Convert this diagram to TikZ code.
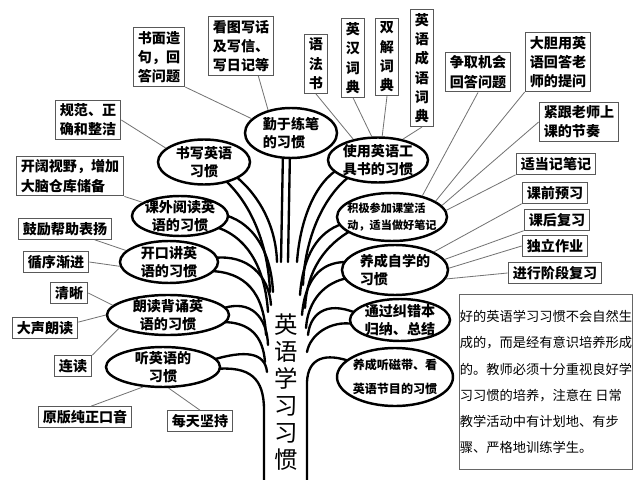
\documentclass[tikz,border=0pt]{standalone}
\usepackage{fontspec}
\setmainfont{Noto Sans CJK SC}
\usetikzlibrary{shapes.geometric}

\begin{document}
\begin{tikzpicture}[x=.03cm,y=-.03cm,
  leaf/.style={draw=black!65,line width=.9pt,fill=white,inner xsep=4pt,inner ysep=3pt,align=left,font=\fontsize{12}{16.5}\selectfont\bfseries},
  habit/.style={ellipse,draw,line width=2.1pt,fill=white,inner xsep=-6pt,inner ysep=-4pt,align=center,font=\fontsize{12}{15}\selectfont\bfseries},
  link/.style={black!55,line width=.7pt},
  branch/.style={line width=2pt,line cap=round}]
\useasboundingbox (0,0) rectangle (640,480);
% tree
\draw[branch] (283,150) -- (281,262);
\draw[branch] (290,150) -- (288,262);
\draw[branch] (220,176) .. controls (248,198) and (268,240) .. (270,292);
\draw[branch] (230,172) .. controls (258,192) and (276,225) .. (277,262);
\draw[branch] (212,226) .. controls (245,234) and (265,265) .. (268,312);
\draw[branch] (220,214) .. controls (252,220) and (271,250) .. (273,292);
\draw[branch] (210,271) .. controls (245,272) and (264,292) .. (266,335);
\draw[branch] (214,258) .. controls (248,254) and (269,276) .. (271,305);
\draw[branch] (224,308) .. controls (250,300) and (267,316) .. (268,345);
\draw[branch] (222,322) .. controls (250,322) and (263,336) .. (265,362);
\draw[branch] (212,360) .. controls (245,350) and (265,352) .. (267,372);
\draw[branch] (215,369) .. controls (250,366) and (264,378) .. (264,410) -- (264,480);
\draw[branch] (340,168) .. controls (315,182) and (300,220) .. (297,262);
\draw[branch] (350,176) .. controls (325,195) and (305,235) .. (303,285);
\draw[branch] (342,224) .. controls (318,232) and (303,255) .. (300,295);
\draw[branch] (352,230) .. controls (325,245) and (307,270) .. (305,308);
\draw[branch] (346,262) .. controls (320,262) and (305,280) .. (302,315);
\draw[branch] (348,278) .. controls (325,282) and (308,300) .. (306,328);
\draw[branch] (356,313) .. controls (325,300) and (310,315) .. (308,335);
\draw[branch] (354,324) .. controls (330,320) and (310,335) .. (307,352);
\draw[branch] (352,362) .. controls (325,352) and (308,358) .. (307,382) -- (307,480);
\node[font=\fontsize{20}{23}\selectfont,align=center] (trunk) at (286,392) {英\\语\\学\\习\\习\\惯};
% habits
\node[habit,minimum width=2.76cm,minimum height=1.5cm,align=left] (e1) at (291,133) {勤于练笔\\的习惯};
\node[habit,minimum width=2.76cm,minimum height=1.35cm] (e2) at (204,162) {书写英语\\习惯};
\node[habit,minimum width=2.88cm,minimum height=1.2cm] (e3) at (180,216) {课外阅读英\\语的习惯};
\node[habit,minimum width=2.94cm,minimum height=1.26cm] (e4) at (169,262) {开口讲英\\语的习惯};
\node[habit,minimum width=3.66cm,minimum height=1.2cm] (e5) at (168,315) {朗读背诵英\\语的习惯};
\node[habit,minimum width=3.42cm,minimum height=1.2cm] (e6) at (163,367) {听英语的\\习惯};
\node[habit,minimum width=3cm,minimum height=1.35cm,align=left] (e7) at (378,160) {使用英语工\\具书的习惯};
\node[habit,minimum width=3.3cm,minimum height=1.44cm,align=left,font=\fontsize{9.5}{14}\selectfont\bfseries] (e8) at (392,217) {积极参加课堂活\\动，适当做好笔记};
\node[habit,minimum width=3.18cm,minimum height=1.5cm,align=left] (e9) at (395,270) {养成自学的\\习惯};
\node[habit,minimum width=3cm,minimum height=1.26cm] (e10) at (400,320) {通过纠错本\\归纳、总结};
\node[habit,minimum width=3.48cm,minimum height=1.74cm,font=\fontsize{10.3}{20}\selectfont\bfseries] (e11) at (395,377) {养成听磁带、看\\英语节目的习惯};
% leaves
\node[leaf] (bShumian) at (159,57) {书面造\\句，回\\答问题};
\node[leaf] (bKantu) at (241,46) {看图写话\\及写信、\\写日记等};
\node[leaf,align=center] (bYufa) at (316,64) {语\\法\\书};
\node[leaf,align=center] (bYinghan) at (353,58) {英\\汉\\词\\典};
\node[leaf,align=center] (bShuangjie) at (387,57) {双\\解\\词\\典};
\node[leaf,align=center] (bChengyu) at (422,68) {英\\语\\成\\语\\词\\典};
\node[leaf] (bZhengqu) at (478,72) {争取机会\\回答问题};
\node[leaf] (bDadan) at (558,62) {大胆用英\\语回答老\\师的提问};
\node[leaf] (bJingen) at (579,122) {紧跟老师上\\课的节奏};
\node[leaf] (bShidang) at (556,164) {适当记笔记};
\node[leaf] (bKeqian) at (555,193) {课前预习};
\node[leaf] (bKehou) at (557,220) {课后复习};
\node[leaf] (bDuli) at (555,246) {独立作业};
\node[leaf] (bJinxing) at (555,273) {进行阶段复习};
\node[leaf] (bGuifan) at (88,120) {规范、正\\确和整洁};
\node[leaf] (bKaikuo) at (70,176) {开阔视野，增加\\大脑仓库储备};
\node[leaf] (bGuli) at (65,229) {鼓励帮助表扬};
\node[leaf] (bXunxu) at (56,262) {循序渐进};
\node[leaf] (bQingxi) at (69,293) {清晰};
\node[leaf] (bDasheng) at (45,328) {大声朗读};
\node[leaf] (bLiandu) at (73,366) {连读};
\node[leaf] (bYuanban) at (85,417) {原版纯正口音};
\node[leaf] (bMeitian) at (200,421) {每天坚持};
\node[draw=black!60,line width=1pt,minimum width=5.19cm,minimum height=5.25cm,inner xsep=0pt,align=left,font=\fontsize{11.3}{22.3}\selectfont] (note) at (546,382) {好的英语学习习惯不会自然生\\成的，而是经有意识培养形成\\的。教师必须十分重视良好学\\习习惯的培养，注意在 日常\\教学活动中有计划地、有步\\骤、严格地训练学生。};
% links
\draw[link] (bShumian.south east) -- (e1.160);
\draw[link] (bKantu.-60) -- (e1.135);
\draw[link] (bYufa.south) -- (e7.140);
\draw[link] (bYinghan.south) -- (e7.105);
\draw[link] (bShuangjie.south) -- (e7.80);
\draw[link] (bChengyu.south) -- (e7.40);
\draw[link] (bGuifan.east) -- (e2.160);
\draw[link] (bKaikuo.south east) -- (e3.160);
\draw[link] (bGuli.-20) -- (e4.165);
\draw[link] (bXunxu.east) -- (e4.185);
\draw[link] (bQingxi.east) -- (e5.170);
\draw[link] (bDasheng.10) -- (e5.180);
\draw[link] (bLiandu.north east) -- (e5.-165);
\draw[link] (bYuanban.60) -- (e6.-135);
\draw[link] (bMeitian.north) -- (e6.-75);
\draw[link] (bZhengqu.south) -- (e8.35);
\draw[link] (bDadan.south west) -- (e8.20);
\draw[link] (bJingen.west) -- (e8.13);
\draw[link] (bShidang.south west) -- (e8.7);
\draw[link] (bKeqian.south west) -- (e9.25);
\draw[link] (bKehou.south west) -- (e9.12);
\draw[link] (bDuli.west) -- (e9.2);
\draw[link] (bJinxing.west) -- (e9.-10);
\end{tikzpicture}
\end{document}
